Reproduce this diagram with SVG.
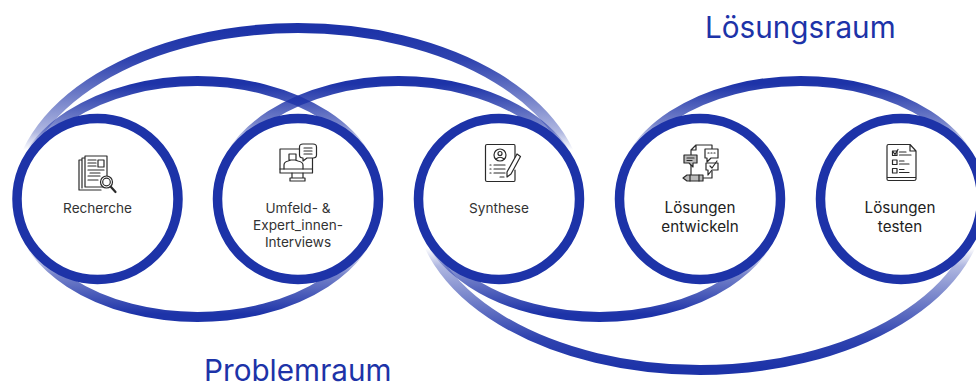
<svg xmlns="http://www.w3.org/2000/svg" width="976" height="384" viewBox="0 0 976 384">
<style>
.ring{fill:#fff;stroke:#1d33a8;stroke-width:9.5}
.arc{fill:none;stroke-width:10}
.lbl{font-family:Inter,"Liberation Sans",sans-serif;font-size:13.600px;fill:#333;text-anchor:middle}
.lbl2{font-family:Inter,"Liberation Sans",sans-serif;font-size:15.200px;fill:#222;text-anchor:middle}
.title{font-family:Inter,"Liberation Sans",sans-serif;font-size:29.700px;fill:#1d33a8}
.ic{fill:none;stroke:#2a2a2a;stroke-width:1.2;stroke-linecap:round;stroke-linejoin:round}
.icw{fill:#fff;stroke:#2a2a2a;stroke-width:1.2;stroke-linejoin:round}
.icg{fill:#bbb;stroke:#2a2a2a;stroke-width:1.2;stroke-linejoin:round}
</style>
<defs>
<linearGradient id="gTall" gradientUnits="userSpaceOnUse" x1="0" y1="30" x2="0" y2="150">
<stop offset="0" stop-color="#1d33a8"/><stop offset=".25" stop-color="#1d33a8" stop-opacity=".92"/><stop offset=".85" stop-color="#1d33a8" stop-opacity=".35"/><stop offset="1" stop-color="#1d33a8" stop-opacity="0"/></linearGradient>
<linearGradient id="gShort" gradientUnits="userSpaceOnUse" x1="0" y1="84" x2="0" y2="150">
<stop offset="0" stop-color="#1d33a8"/><stop offset=".6" stop-color="#1d33a8" stop-opacity=".6"/><stop offset="1" stop-color="#1d33a8" stop-opacity="0"/></linearGradient>
<linearGradient id="gShortB" gradientUnits="userSpaceOnUse" x1="0" y1="314" x2="0" y2="248">
<stop offset="0" stop-color="#1d33a8"/><stop offset=".6" stop-color="#1d33a8" stop-opacity=".6"/><stop offset="1" stop-color="#1d33a8" stop-opacity="0"/></linearGradient>
<linearGradient id="gTallB" gradientUnits="userSpaceOnUse" x1="0" y1="368" x2="0" y2="248">
<stop offset="0" stop-color="#1d33a8"/><stop offset=".25" stop-color="#1d33a8" stop-opacity=".92"/><stop offset=".85" stop-color="#1d33a8" stop-opacity=".35"/><stop offset="1" stop-color="#1d33a8" stop-opacity="0"/></linearGradient>
</defs>
<rect width="976" height="384" fill="#fff"/>
<g id="connectors">
<path class="arc" stroke="url(#gTall)" d="M16.500 199A281.500 171 0 0 1 579.500 199"/>
<path class="arc" stroke="url(#gShort)" d="M16.500 199A181 118 0 0 1 378.500 199"/>
<path class="arc" stroke="url(#gShort)" d="M217.500 199A181 118 0 0 1 579.500 199"/>
<path class="arc" stroke="url(#gShort)" d="M619.500 199A181 118 0 0 1 981.500 199"/>
<path class="arc" stroke="url(#gShortB)" d="M16.500 199A181 118 0 0 0 378.500 199"/>
<path class="arc" stroke="url(#gShortB)" d="M418.500 199A181 118 0 0 0 780.500 199"/>
<path class="arc" stroke="url(#gTallB)" d="M418.500 199A281.500 171 0 0 0 981.500 199"/>
</g>
<g id="recherche">
<circle class="ring" cx="97.500" cy="199" r="80.500"/>
<path class="ic" d="M82 160H79V190H101M85 158H82V188"/>
<rect class="icw" x="85" y="156" width="22" height="31"/>
<path class="ic" d="M88 160H96M88 163H96M88 166H96M98 160H104V167H98ZM88 170H104M90 173H100M88 176H100M88 180H98"/>
<circle class="icw" cx="106.500" cy="182" r="6"/><circle class="ic" cx="106.500" cy="182" r="3.800"/>
<path d="M111 187L115.500 192" fill="none" stroke="#2a2a2a" stroke-width="2.200" stroke-linecap="round"/>
<text class="lbl" x="97.500" y="213">Recherche</text>
</g>
<g id="interviews">
<circle class="ring" cx="298" cy="199" r="80.500"/>
<rect class="ic" x="280" y="149" width="32.500" height="24"/>
<path class="ic" d="M280 169H312.500M292 173V178M303 173V178M290 181H305V178H290Z"/>
<path class="ic" d="M284 169V165Q284 162 288 161L291 160H295L298 161Q303 162 303 165V169M289 154H296V160H289Z"/>
<path class="icw" d="M303 144H313Q316.500 144 316.500 147V155Q316.500 158 313 158H307L303 161V158Q299.500 158 299.500 155V147Q299.500 144 303 144Z"/>
<path class="ic" d="M304 148H312M304 151H312M304 154H312"/>
<text class="lbl" x="298" y="213">Umfeld- &amp;</text>
<text class="lbl" x="298" y="230">Expert_innen-</text>
<text class="lbl" x="298" y="246.500">Interviews</text>
</g>
<g id="synthese">
<circle class="ring" cx="499" cy="199" r="80.500"/>
<path class="ic" d="M515 170V180Q515 181.500 514 181.500H487Q485.500 181.500 485.500 180V146Q485.500 144.500 487 144.500H514Q515 144.500 515 146V158"/>
<circle class="ic" cx="500" cy="155" r="6"/><circle class="ic" cx="500" cy="153.500" r="2"/><path class="ic" d="M496 159Q500 155.500 504 159"/>
<path class="ic" d="M490 165H491M494 165H505M490 169H491M494 169H505M490 173H491M494 173H505M500 177H504"/>
<path class="icw" d="M517 154L520.500 156.500L511 174L507 177L507 172Z"/>
<text class="lbl" x="499" y="213">Synthese</text>
</g>
<g id="entwickeln">
<circle class="ring" cx="700" cy="199" r="80.500"/>
<path class="ic" d="M691 175V150L696 145H712V149M696 145V150H691M712 171V178H703"/>
<path class="icg" d="M684 155H697V163H693V167L689 163H684Z"/>
<path class="ic" d="M687 158H694M687 160.500H692"/>
<path class="icw" d="M705 149H718V158H711L707 162V158H705Z"/>
<path class="ic" d="M708 153H709M711 153H712M714 153H715"/>
<path class="icw" d="M706 163H718V170H712L708 175V170H706Z"/>
<path class="ic" d="M710 166L712 168L717 161"/>
<path class="icg" d="M687 175H703V181H687L683 178Z"/>
<path class="ic" d="M690 175V181M699 175V181"/>
<text class="lbl2" x="700" y="213">Lösungen</text>
<text class="lbl2" x="700" y="232">entwickeln</text>
</g>
<g id="testen">
<circle class="ring" cx="901" cy="199" r="80.500"/>
<path class="ic" d="M910 144.500H888.500Q887 144.500 887 146V179Q887 180.500 888.500 180.500H914Q916 180.500 916 179V151ZM910 144.500V151H916M887 177.500H916"/>
<rect class="ic" x="892.500" y="151" width="4.500" height="4.500"/>
<rect class="ic" x="892.500" y="160" width="4.500" height="4.500"/>
<rect class="ic" x="892.500" y="168.500" width="4.500" height="4.500"/>
<path class="ic" d="M893 151.500L895 154.500L898 149.500M899.500 152H906M899.500 155H911M899.500 161H904M899.500 164H909M899.500 169.500H904M899.500 172.500H909"/>
<text class="lbl2" x="900" y="213">Lösungen</text>
<text class="lbl2" x="900" y="232">testen</text>
</g>
<g id="titles">
<text class="title" x="705" y="38">Lösungsraum</text>
<text class="title" x="204" y="381">Problemraum</text>
</g>
</svg>
